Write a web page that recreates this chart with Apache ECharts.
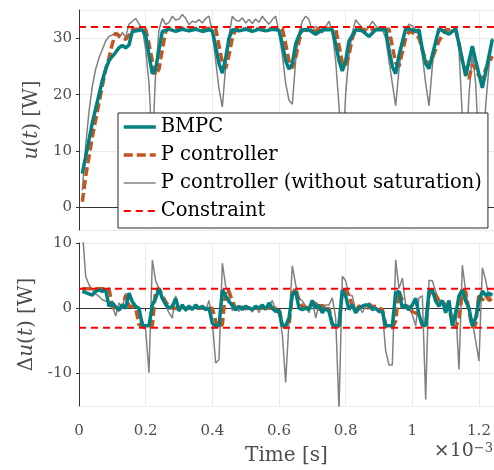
<!DOCTYPE html>
<html>
<head>
<meta charset="utf-8">
<script src="https://cdn.jsdelivr.net/npm/echarts@6/dist/echarts.min.js"></script>
<style>
  html, body { margin: 0; padding: 0; background: #fff; }
  #main { width: 494px; height: 470px; }
</style>
</head>
<body>
<div id="main"></div>
<script>
// time in units of 1e-3 s
var tEnd = 1.245;
var uMax = 32;
var duMax = 3;

// u(t), BMPC
var bmpcU = [
  [0.01,6],[0.02,9],[0.03,12],[0.04,15],[0.05,17.5],[0.06,20],[0.07,22.5],[0.08,24.5],[0.09,26],[0.10,26.8],
  [0.11,27.5],[0.12,28.3],[0.13,28.7],[0.14,28.3],[0.15,28.8],[0.16,31.2],[0.19,31.5],[0.20,30.5],[0.21,27],
  [0.22,23.7],[0.23,24.5],[0.24,28],[0.25,31.2],[0.27,31.6],[0.29,31.2],[0.31,31.6],[0.33,31.3],[0.35,31.6],
  [0.37,31.2],[0.39,31.5],[0.40,31.3],[0.41,28.5],[0.42,25.5],[0.43,23.8],[0.44,26.5],[0.45,30],[0.46,31.5],
  [0.48,31.3],[0.50,31.6],[0.52,31.2],[0.54,31.6],[0.56,31.3],[0.58,31.6],[0.60,31.4],[0.61,29],[0.62,26],
  [0.63,24.5],[0.64,25.5],[0.65,29],[0.66,30.5],[0.67,31.5],[0.69,31.5],[0.71,30.7],[0.73,31.5],[0.76,31.5],
  [0.77,29],[0.78,26],[0.79,24.2],[0.80,26],[0.81,29.5],[0.83,31.5],[0.85,31.3],[0.87,30.3],[0.89,31.5],
  [0.92,31.5],[0.93,28],[0.94,25],[0.95,23.7],[0.96,27],[0.98,31.7],[1.00,31.5],[1.01,31.2],[1.02,31.5],
  [1.03,28],[1.04,25.5],[1.05,24.6],[1.06,27],[1.08,31.7],[1.11,30.7],[1.13,31.7],[1.14,29],[1.16,23.3],
  [1.18,28.6],[1.19,26],[1.21,21.2],[1.22,24],[1.24,29.8]
];

// u(t), P controller
var pU = [
  [0.01,1],[0.02,5.5],[0.03,9],[0.04,12.5],[0.05,15.5],[0.06,18.5],[0.07,21.5],[0.08,24.5],[0.09,26.5],[0.10,29],
  [0.11,30.9],[0.12,30.5],[0.13,30],[0.14,29.8],[0.15,30.5],[0.16,31.6],[0.20,31.6],[0.21,29],[0.22,26],
  [0.23,23.5],[0.24,24.5],[0.25,28],[0.26,31.2],[0.27,31.7],[0.41,31.7],[0.42,28.7],[0.43,25.7],[0.44,24.6],
  [0.45,27],[0.46,30],[0.47,31.6],[0.61,31.7],[0.62,29],[0.63,26],[0.64,24.7],[0.65,26.5],[0.66,29.5],
  [0.67,31.5],[0.71,31.2],[0.72,31.7],[0.77,31.7],[0.78,28.7],[0.79,25.7],[0.80,25],[0.81,27],[0.82,30],
  [0.83,31.5],[0.93,31.6],[0.94,28.6],[0.95,25.6],[0.96,25],[0.97,27.5],[0.98,30],[0.99,31.2],[1.01,30.8],
  [1.02,30],[1.03,28],[1.04,26],[1.05,25.4],[1.06,26.5],[1.08,29.5],[1.10,31.5],[1.13,31.5],[1.14,29],
  [1.15,26],[1.16,24],[1.17,22.8],[1.18,25.4],[1.19,24.5],[1.20,23.3],[1.21,23],[1.22,24.5],[1.24,26.8]
];

// u(t), P controller without saturation
var pNoSatU = [
  [0.01,3],[0.02,11],[0.03,17],[0.04,21.5],[0.05,24.5],[0.06,26.5],[0.07,28],[0.08,29.5],[0.09,30.3],[0.10,30.6],
  [0.11,31],[0.12,30],[0.13,31],[0.14,30.2],[0.15,32.5],[0.16,33],[0.17,33.5],[0.18,32.5],[0.19,31.8],[0.20,28],
  [0.21,22],[0.22,10],[0.23,24],[0.24,31.5],[0.25,33.5],[0.26,32.4],[0.27,32.8],[0.28,33.9],[0.29,33.2],
  [0.30,33.4],[0.31,34.2],[0.32,33.5],[0.33,32.4],[0.34,33],[0.35,32.8],[0.36,33.3],[0.37,32.7],[0.38,33.5],
  [0.39,33.9],[0.40,31],[0.41,26],[0.42,21],[0.43,17.8],[0.44,25],[0.45,30.5],[0.46,33.9],[0.47,33.2],
  [0.48,33],[0.49,33.6],[0.50,32.7],[0.51,33.3],[0.52,32.6],[0.53,33.4],[0.54,32.8],[0.55,33.9],[0.56,33.1],
  [0.57,32.5],[0.58,33.3],[0.59,33.9],[0.60,31],[0.61,27],[0.62,22],[0.63,19],[0.64,18.3],[0.65,26],
  [0.66,31],[0.67,33],[0.68,33.9],[0.69,33.3],[0.70,31.2],[0.71,32.1],[0.72,31.6],[0.73,30.9],[0.74,32],
  [0.75,33],[0.76,31],[0.77,26],[0.78,18],[0.79,8],[0.80,20],[0.81,27],[0.82,31],[0.83,33.3],[0.84,32.5],
  [0.85,31.8],[0.86,31.2],[0.87,32],[0.88,33],[0.89,32.2],[0.90,31.7],[0.91,31.5],[0.92,30],[0.93,26],
  [0.94,22],[0.95,18],[0.96,24.5],[0.97,29],[0.98,31.5],[0.99,32.5],[1.00,32.2],[1.01,31.5],[1.02,30.3],
  [1.03,27],[1.04,22],[1.05,18],[1.06,25],[1.07,30],[1.08,31.2],[1.09,31.6],[1.11,31.3],[1.13,31.6],
  [1.14,28],[1.15,16],[1.16,8],[1.17,20],[1.18,27.2],[1.19,22],[1.20,10],[1.21,8],[1.22,18],[1.23,25],[1.24,30]
];

// delta u(t), BMPC
var bmpcDu = [
  [0.01,2.6],[0.02,2.4],[0.03,2.2],[0.04,2.0],[0.05,2.6],[0.06,2.8],[0.07,2.6],[0.08,2.8],[0.09,0.3],[0.10,0.8],
  [0.11,0.2],[0.12,-0.3],[0.13,0.5],[0.14,0],[0.15,2.3],[0.16,1],[0.17,0.3],[0.18,0],[0.19,-2.7],[0.20,-2.7],
  [0.21,-2.7],[0.22,0.5],[0.23,1.5],[0.24,3],[0.25,1.5],[0.26,0.6],[0.27,0],[0.28,0.3],[0.29,1.5],[0.30,-0.4],
  [0.31,0.5],[0.32,-0.3],[0.33,0.3],[0.34,-0.2],[0.35,0.5],[0.36,0],[0.37,0.3],[0.38,-0.2],[0.39,0],[0.40,-2.3],
  [0.41,-2.7],[0.42,-2.7],[0.43,2.8],[0.44,1.9],[0.45,1],[0.46,0.5],[0.47,-0.3],[0.48,0.3],[0.49,-0.2],[0.50,0.3],
  [0.51,0],[0.52,-0.2],[0.53,0.3],[0.54,0],[0.55,0.5],[0.56,-0.2],[0.57,0.8],[0.58,0],[0.59,-0.5],[0.60,-0.3],
  [0.61,-2.7],[0.62,-2.7],[0.63,-1.5],[0.64,2],[0.65,2.6],[0.66,0],[0.67,-0.2],[0.68,0],[0.69,-0.2],[0.70,1.2],
  [0.71,0],[0.72,0.5],[0.73,-0.7],[0.74,0],[0.75,-0.5],[0.76,-2.5],[0.77,-2.7],[0.78,-2.7],[0.79,2.8],[0.80,1.9],
  [0.81,-0.2],[0.82,0.5],[0.83,-0.7],[0.84,0],[0.85,0.3],[0.86,0.5],[0.87,0.5],[0.88,-0.2],[0.89,0],[0.90,-0.5],
  [0.91,-0.5],[0.92,-2.7],[0.93,-2.7],[0.94,-2.7],[0.95,2.3],[0.96,2.6],[0.97,0],[0.98,0.5],[0.99,-0.3],
  [1.00,0.5],[1.01,1.5],[1.02,-1],[1.03,-2.5],[1.04,-2.7],[1.05,2.6],[1.06,2.8],[1.07,1.1],[1.08,0.3],[1.09,1.2],
  [1.10,-0.7],[1.11,1.2],[1.12,-2.7],[1.13,-1],[1.14,1.9],[1.15,2.8],[1.16,1.1],[1.17,0],[1.18,-2.7],[1.19,-1.5],
  [1.20,1.1],[1.21,2.6],[1.22,2],[1.23,2.3],[1.24,2.0]
];

// delta u(t), P controller
var pDu = [
  [0.01,3],[0.09,3],[0.10,0.3],[0.11,-0.4],[0.12,-0.2],[0.13,0.3],[0.14,2],[0.15,0.3],[0.16,0.3],[0.17,0],
  [0.18,-2.5],[0.19,-2.8],[0.20,-3],[0.21,-3],[0.22,-2.7],[0.23,2.8],[0.24,3],[0.25,2],[0.26,1],[0.27,0.3],
  [0.28,0],[0.40,0],[0.41,-2],[0.42,-3],[0.43,-2.5],[0.44,2.8],[0.45,2.6],[0.46,1.1],[0.47,0],[0.60,0],
  [0.61,-2.5],[0.62,-3],[0.63,-2.7],[0.64,2.3],[0.65,3],[0.66,1.2],[0.67,0.3],[0.69,0],[0.71,0.8],[0.72,-0.3],
  [0.73,0.5],[0.74,-0.3],[0.75,0],[0.76,-2.5],[0.77,-3],[0.78,-2.7],[0.79,2.8],[0.80,2.8],[0.81,2],[0.82,0.3],
  [0.83,-0.3],[0.84,0.3],[0.86,0],[0.89,0.3],[0.91,-0.2],[0.92,-2.5],[0.93,-3],[0.94,-3],[0.95,-2],[0.96,2.6],
  [0.97,1.2],[0.98,0],[0.99,0.3],[1.00,-0.5],[1.02,-1],[1.03,-2.7],[1.04,-2.7],[1.05,2],[1.06,2.8],[1.08,1.2],
  [1.09,0.8],[1.10,0.5],[1.11,0],[1.12,-2.3],[1.13,-3],[1.14,-1.5],[1.15,2.3],[1.16,2.6],[1.17,-0.5],[1.18,-3],
  [1.19,-2.5],[1.20,2.3],[1.21,1.2],[1.22,2],[1.23,1.2],[1.24,1.5]
];

// delta u(t), P controller without saturation
var pNoSatDu = [
  [0.01,12],[0.02,4.9],[0.03,3.6],[0.04,2.8],[0.05,2.2],[0.06,1.8],[0.07,1.3],[0.08,1.1],[0.09,1.0],[0.10,0.5],
  [0.11,-1.2],[0.12,0.8],[0.13,0],[0.14,2.3],[0.15,0.5],[0.16,0],[0.17,0.3],[0.18,-0.4],[0.19,-1.8],[0.20,-3.3],
  [0.21,-9.9],[0.22,7.4],[0.23,4.2],[0.24,3],[0.25,1.5],[0.26,0.4],[0.27,-0.7],[0.28,-1.5],[0.29,1.9],[0.30,-0.5],
  [0.31,0.3],[0.32,-0.5],[0.33,0.5],[0.34,-0.3],[0.35,0.6],[0.36,-0.2],[0.37,0.2],[0.38,-0.4],[0.39,1.2],[0.40,-2],
  [0.41,-8.4],[0.42,-7.9],[0.43,6.9],[0.44,3.4],[0.45,2],[0.46,-0.4],[0.47,0.3],[0.48,-0.5],[0.49,0.4],[0.50,-0.3],
  [0.51,0.2],[0.52,-0.6],[0.53,0.3],[0.54,-0.7],[0.55,0.5],[0.56,-0.2],[0.57,0.3],[0.58,1.2],[0.59,-0.4],[0.60,-1],
  [0.61,-4],[0.62,-11.4],[0.63,-2],[0.64,6.5],[0.65,3.6],[0.66,1.6],[0.67,1.1],[0.68,0.3],[0.69,-0.7],[0.70,1.2],
  [0.71,-1.5],[0.72,0.5],[0.73,-0.3],[0.74,0.5],[0.75,0.5],[0.76,1.6],[0.77,-1.5],[0.78,-15.5],[0.79,4.9],
  [0.80,4.2],[0.81,2],[0.82,1.9],[0.83,-0.4],[0.84,0.5],[0.85,-0.7],[0.86,0.3],[0.87,0.8],[0.88,0.5],[0.89,0],
  [0.90,-0.2],[0.91,-0.5],[0.92,-6.5],[0.93,-8.7],[0.94,-8.7],[0.95,7.4],[0.96,3],[0.97,4.6],[0.98,0.5],[0.99,0],
  [1.00,-1],[1.01,-2.7],[1.02,1.6],[1.03,1.9],[1.04,-14],[1.05,4.3],[1.06,4.2],[1.07,2.6],[1.08,1.1],[1.10,0.8],
  [1.11,-0.4],[1.12,-1.9],[1.13,0],[1.14,-9.4],[1.15,6.6],[1.16,2.6],[1.17,0],[1.18,-2],[1.19,-5],[1.20,-8.1],
  [1.21,6.2],[1.22,4.3],[1.23,1.6],[1.24,2.3]
];

var FONT = 'DejaVu Serif';
var GREY_TXT = '#4d4d4d';
var TEAL = '#008080';
var ORANGE = '#c4551f';
var GREY = '#808080';
var RED = '#ff0000';

var chart = echarts.init(document.getElementById('main'));

function xAxis(idx, withLabels) {
  return {
    type: 'value',
    gridIndex: idx,
    min: 0,
    max: tEnd,
    interval: 0.2,
    axisLine: { show: true, lineStyle: { color: '#333', width: 1 } },
    axisTick: { show: withLabels, length: 3, lineStyle: { color: '#333' } },
    axisLabel: {
      show: withLabels,
      margin: 18,
      color: GREY_TXT,
      fontFamily: FONT,
      fontSize: 15,
      showMaxLabel: false,
      formatter: function (v) { return String(+v.toFixed(1)); }
    },
    splitLine: { show: true, lineStyle: { color: '#ebebeb', width: 1 } },
    name: withLabels ? 'Time [s]' : '',
    nameLocation: 'middle',
    nameGap: 40,
    nameTextStyle: { color: GREY_TXT, fontFamily: FONT, fontSize: 20 }
  };
}

function yAxis(idx, lo, hi, name) {
  return {
    type: 'value',
    gridIndex: idx,
    min: lo,
    max: hi,
    splitNumber: 3,
    axisLine: { show: true, lineStyle: { color: '#333', width: 1 } },
    axisTick: { show: true, length: 3, lineStyle: { color: '#333' } },
    axisLabel: {
      margin: 7,
      color: GREY_TXT,
      fontFamily: FONT,
      fontSize: 15,
      showMinLabel: false,
      showMaxLabel: idx === 1
    },
    splitLine: { show: true, lineStyle: { color: '#ebebeb', width: 1 } },
    name: name,
    nameLocation: 'middle',
    nameGap: 20,
    nameTextStyle: {
      color: GREY_TXT, fontFamily: FONT, fontSize: 20,
      rich: { i: { fontStyle: 'italic', color: GREY_TXT, fontFamily: FONT, fontSize: 20 } }
    }
  };
}

function line(name, data, g, color, width, type, z) {
  return {
    name: name,
    type: 'line',
    xAxisIndex: g,
    yAxisIndex: g,
    data: data,
    symbol: 'none',
    silent: true,
    z: z,
    lineStyle: { color: color, width: width, type: type },
    itemStyle: { color: color }
  };
}

var option = {
  backgroundColor: '#fff',
  animation: false,
  grid: [
    { left: 79, right: 0, top: 10, height: 220 },
    { left: 79, right: 0, top: 243, height: 163 }
  ],
  xAxis: [xAxis(0, false), xAxis(1, true)],
  yAxis: [
    yAxis(0, -4, 35, '{i|u}({i|t}) [W]'),
    yAxis(1, -15, 10, 'Δ{i|u}({i|t}) [W]')
  ],
  legend: {
    left: 118,
    top: 113,
    orient: 'vertical',
    backgroundColor: '#fff',
    borderColor: '#262626',
    borderWidth: 1,
    borderRadius: 0,
    padding: [3, 6, 6, 4],
    itemGap: 6,
    itemWidth: 32,
    itemHeight: 14,
    z: 10,
    selectedMode: false,
    itemStyle: { opacity: 0 },
    textStyle: { color: '#000', fontFamily: FONT, fontSize: 19.5, lineHeight: 22 },
    data: [
      { name: 'BMPC', lineStyle: { width: 3.5 } },
      { name: 'P controller', lineStyle: { width: 3.5 } },
      { name: 'P controller (without saturation)', lineStyle: { width: 1.5 } },
      { name: 'Constraint', lineStyle: { width: 2 } }
    ]
  },
  graphic: [{
    type: 'text',
    right: 1,
    top: 442,
    style: {
      text: '×10{s|−3}',
      fill: GREY_TXT,
      font: '19px "DejaVu Serif"',
      rich: { s: { fontSize: 13, fontFamily: FONT, verticalAlign: 'top', fill: GREY_TXT } }
    }
  }],
  series: [
    line('P controller (without saturation)', pNoSatU, 0, GREY, 1.5, 'solid', 1),
    line('P controller', pU, 0, ORANGE, 3.5, [9, 4], 2),
    line('BMPC', bmpcU, 0, TEAL, 3.5, 'solid', 3),
    line('Constraint', [[0, uMax], [tEnd, uMax]], 0, RED, 2, [7, 5], 4),
    line('P controller (without saturation)', pNoSatDu, 1, GREY, 1.5, 'solid', 1),
    line('P controller', pDu, 1, ORANGE, 3.5, [9, 4], 2),
    line('BMPC', bmpcDu, 1, TEAL, 3.5, 'solid', 3),
    line('Constraint', [[0, duMax], [tEnd, duMax]], 1, RED, 2, [7, 5], 4),
    line('Constraint', [[0, -duMax], [tEnd, -duMax]], 1, RED, 2, [7, 5], 4)
  ]
};

chart.setOption(option);
</script>
</body>
</html>
